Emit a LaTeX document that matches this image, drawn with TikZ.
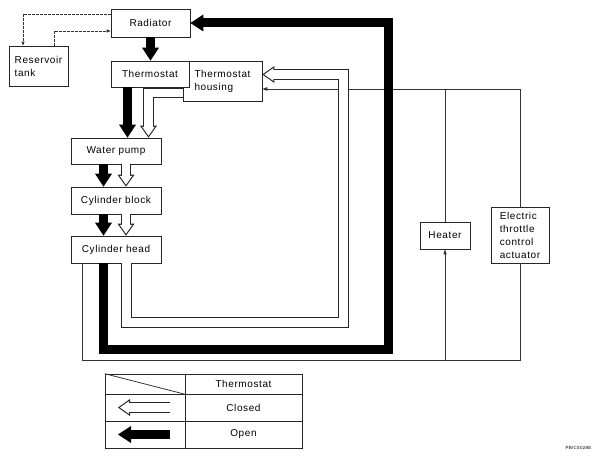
\documentclass[tikz,border=0pt]{standalone}
\usepackage{fontspec}
\setmainfont{Liberation Sans}[LetterSpace=6]
\usetikzlibrary{arrows.meta,calc}

\tikzset{
  unit/.style={draw=black!85, line width=0.7pt, fill=white, inner sep=2pt,
    font=\fontsize{10}{13}\selectfont},
  pipe/.style={draw=black!80, line width=0.8pt},
  vent/.style={pipe, dash pattern=on 2.5pt off 1.5pt, -{Triangle[length=4pt,width=3pt]}},
  mainflow/.style={line width=9pt, -{Triangle[length=13pt,width=17pt,line width=0pt]}},
  bypassedge/.style={draw=black!85, line width=10.6pt, -{Triangle[length=12pt,width=17pt,line width=0pt]}},
  bypassfill/.style={draw=white, line width=8.4pt, shorten >=1.9pt,
    -{Triangle[length=9pt,width=12.7pt,line width=0pt]}}
}
\newcommand{\bypassflow}[1]{%
  \draw[bypassedge] #1;
  \draw[bypassfill] #1;}

\begin{document}
\begin{tikzpicture}[x=1pt, y=-1pt]
\useasboundingbox (0,0) rectangle (597,460);

% Parts
\node[unit, minimum width=79pt, minimum height=28pt] (radiator) at (150.5,23) {Radiator};
\node[unit, minimum width=59pt, minimum height=40pt, align=left] (reservoir) at (38.5,66) {Reservoir\\tank};
\node[unit, minimum width=79pt, minimum height=40pt, align=left] (housing) at (222.5,81) {Thermostat\\housing};
\node[unit, minimum width=78pt, minimum height=26pt] (thermostat) at (150,74) {Thermostat};
\node[unit, minimum width=90pt, minimum height=26pt] (pump) at (116,151) {Water pump};
\node[unit, minimum width=90pt, minimum height=27pt] (block) at (116,200.5) {Cylinder block};
\node[unit, minimum width=90pt, minimum height=27pt] (head) at (116,249.5) {Cylinder head};
\node[unit, minimum width=50pt, minimum height=27pt] (heater) at (445,235.5) {Heater};
\node[unit, minimum width=58pt, minimum height=56pt, align=left] (throttle) at (520,235) {Electric\\throttle\\control\\actuator};

% Reservoir lines
\draw[vent] ([yshift=9pt]radiator.west) -| ([xshift=-15.5pt]reservoir.north);
\draw[vent] ([xshift=15.5pt]reservoir.north) |- ([yshift=-8pt]radiator.west);

% Heater and throttle circuit
\coordinate (lowrun) at (83,360);
\coordinate (highrun) at (520,89);
\draw[pipe] ([xshift=12pt]head.south west) |- (throttle.south |- lowrun) -- (throttle.south);
\draw[pipe, -{Triangle[length=5pt,width=3pt]}] (heater.south |- lowrun) -- (heater.south);
\draw[pipe] (heater.north) -- (heater.north |- highrun);
\draw[pipe, -{Triangle[length=5pt,width=3.5pt]}] (throttle.north) |- ([yshift=-8pt]housing.east);

% Thermostat open
\draw[mainflow] (radiator.south) -- (radiator.south |- thermostat.north);
\draw[mainflow] ([xshift=-22.5pt]thermostat.south) -- ([xshift=11.5pt]pump.north);
\coordinate (hotcorner) at (103,349);
\coordinate (hottop) at (388,23);
\draw[mainflow] ([xshift=-13pt]head.south) -- (hotcorner) -| (hottop) -- (radiator.east);

% Thermostat closed
\coordinate (coolcorner) at (126.5,322.5);
\coordinate (cooltop) at (343.5,74.5);
\bypassflow{([xshift=10.5pt]head.south) -- (coolcorner) -| (cooltop) -- ([yshift=6.5pt]housing.east)}
\bypassflow{([yshift=-12pt]housing.west) -| ([xshift=32.5pt]pump.north)}

% Both
\foreach \a/\b in {pump/block, block/head} {
  \draw[mainflow] ([xshift=-12.5pt]\a.south) -- ([xshift=-12.5pt]\b.north);
  \bypassflow{([xshift=10pt]\a.south) -- ([xshift=10pt]\b.north)}
}

% Legend
\node[unit, minimum width=80pt, minimum height=20pt] (keycorner) at (145,384) {};
\node[unit, minimum width=117pt, minimum height=20pt] (keyhead) at (243.5,384) {Thermostat};
\node[unit, minimum width=80pt, minimum height=27pt] (keyclosed) at (145,407.5) {};
\node[unit, minimum width=117pt, minimum height=27pt] (closed) at (243.5,407.5) {Closed};
\node[unit, minimum width=80pt, minimum height=27pt] (keyopen) at (145,434.5) {};
\node[unit, minimum width=117pt, minimum height=27pt] (open) at (243.5,434.5) {Open};
\draw[pipe] (keycorner.north west) -- (keycorner.south east);
\bypassflow{([xshift=25pt]keyclosed.center) -- ([xshift=-27pt]keyclosed.center)}
\draw[mainflow] ([xshift=25pt]keyopen.center) -- ([xshift=-27pt]keyopen.center);

\node[font=\fontsize{4.5}{5}\selectfont] (code) at (578.5,448) {PBIC5028E};
\end{tikzpicture}
\end{document}
